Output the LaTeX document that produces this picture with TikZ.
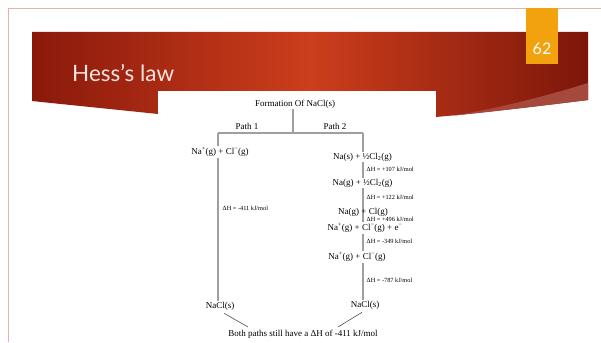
\documentclass[tikz,border=0pt]{standalone}
\usepackage{fontspec}
\setmainfont{Liberation Serif}
\newfontfamily\slidefont{Lato}
\usetikzlibrary{calc}
\definecolor{slidered}{HTML}{8A190B}
\definecolor{slidemid}{HTML}{CC3E1C}
\definecolor{swoosh}{HTML}{A6493D}
\definecolor{pagenum}{HTML}{F2A20D}
\definecolor{rimline}{HTML}{E6B2AE}
\definecolor{titletext}{HTML}{F3E4E0}
\pgfdeclarelayer{background}
\pgfsetlayers{background,main}

\begin{document}
\begin{tikzpicture}[x=1pt, y=-1pt,
  chem/.style={font=\fontsize{9}{10}\selectfont, inner sep=1pt},
  dh/.style={font=\fontsize{6.3}{7}\selectfont, anchor=west, inner sep=0.5pt},
  pathline/.style={gray!75, line width=1.1pt},
  tieline/.style={black!80, line width=0.5pt}]
  \useasboundingbox (0,0) rectangle (601,342);
  \begin{pgfonlayer}{background}
  % slide frame
  \fill[white] (0,0) rectangle (601,342);
  \draw[rimline, line width=0.8pt] (8,342) -- (8,8) -- (601,8);
  % title banner
  \shade[left color=slidered, right color=slidered!90!black, middle color=slidemid]
    (32,32) -- (588,32) -- (588,100) .. controls (540,106) and (480,113) .. (436,117)
    -- (158,117) -- (158,114) .. controls (110,109) and (70,105) .. (32,101) -- cycle;
  \fill[swoosh] (588,83) .. controls (540,98) and (490,110) .. (450,116)
    .. controls (490,112) and (540,106) .. (588,100) -- cycle;
  \fill[pagenum] (526,8) rectangle (558,64);
  % pasted picture
  \fill[white] (158,91) rectangle (436,342);
  \end{pgfonlayer}
  \node[font=\slidefont\fontsize{16}{18}\selectfont, text=white] (num) at (542,49) {62};
  \node[font=\slidefont\fontsize{22.5}{26}\selectfont, text=titletext, anchor=base west, inner sep=0pt] (title) at (72,82) {Hess’s law};

  \node[chem] (top) at (295,104) {Formation Of NaCl(s)};
  \coordinate (barL) at (218,133);
  \coordinate (barM) at (293,133);
  \coordinate (barR) at (363,133);
  \node[chem, anchor=south] (p1) at (247,131) {Path 1};
  \node[chem, anchor=south] (p2) at (335,131) {Path 2};

  % path 1
  \node[chem] (l1) at (220,152) {Na\textsuperscript{+}(g) + Cl\textsuperscript{−}(g)};
  \node[chem] (l2) at (220,306) {NaCl(s)};
  \node[dh] (dl) at (222,208) {ΔH = -411 kJ/mol};

  % path 2
  \node[chem] (r1) at (362.5,157) {Na(s) + ½Cl\textsubscript{2}(g)};
  \node[chem] (r2) at (362.5,183) {Na(g) + ½Cl\textsubscript{2}(g)};
  \node[chem] (r3) at (363,212) {Na(g) + Cl(g)};
  \node[chem] (r4) at (365,228) {Na\textsuperscript{+}(g) + Cl\textsuperscript{−}(g) + e\textsuperscript{−}};
  \node[chem] (r5) at (357,257) {Na\textsuperscript{+}(g) + Cl\textsuperscript{−}(g)};
  \node[chem] (r6) at (365,305) {NaCl(s)};
  \node[dh] (d1) at (366,169) {ΔH = +107 kJ/mol};
  \node[dh] (d2) at (366,197) {ΔH = +122 kJ/mol};
  \node[dh] (d3) at (366,219.5) {ΔH = +496 kJ/mol};
  \node[dh] (d4) at (366,241) {ΔH = -349 kJ/mol};
  \node[dh] (d5) at (366,280) {ΔH = -787 kJ/mol};

  \node[chem] (both) at (303,334) {Both paths still have a ΔH of -411 kJ/mol};
  \coordinate (tipL) at (248,327);
  \coordinate (tipR) at (338,327);

  % tree lines
  \begin{pgfonlayer}{background}
  \draw[pathline] (top.south -| barM) -- (barM);
  \draw[pathline] (barL) -- (barR);
  \draw[pathline] (barL) -- (l1.north -| barL);
  \draw[pathline] (barR) -- (r1.north -| barR);
  \draw[pathline] (l1.south -| barL) -- (l2.north -| barL);
  \draw[pathline] (r1.south -| barR) -- (r2.north -| barR);
  \draw[pathline] (r2.south -| barR) -- (r4.north -| barR);
  \draw[pathline] (r4.south -| barR) -- (r5.north -| barR);
  \draw[pathline] (r5.south -| barR) -- (r6.north -| barR);
  \draw[tieline] ($(l2.south)+(4,2)$) -- (tipL);
  \draw[tieline] ($(r6.south)+(-3,2)$) -- (tipR);
  \end{pgfonlayer}
\end{tikzpicture}
\end{document}
